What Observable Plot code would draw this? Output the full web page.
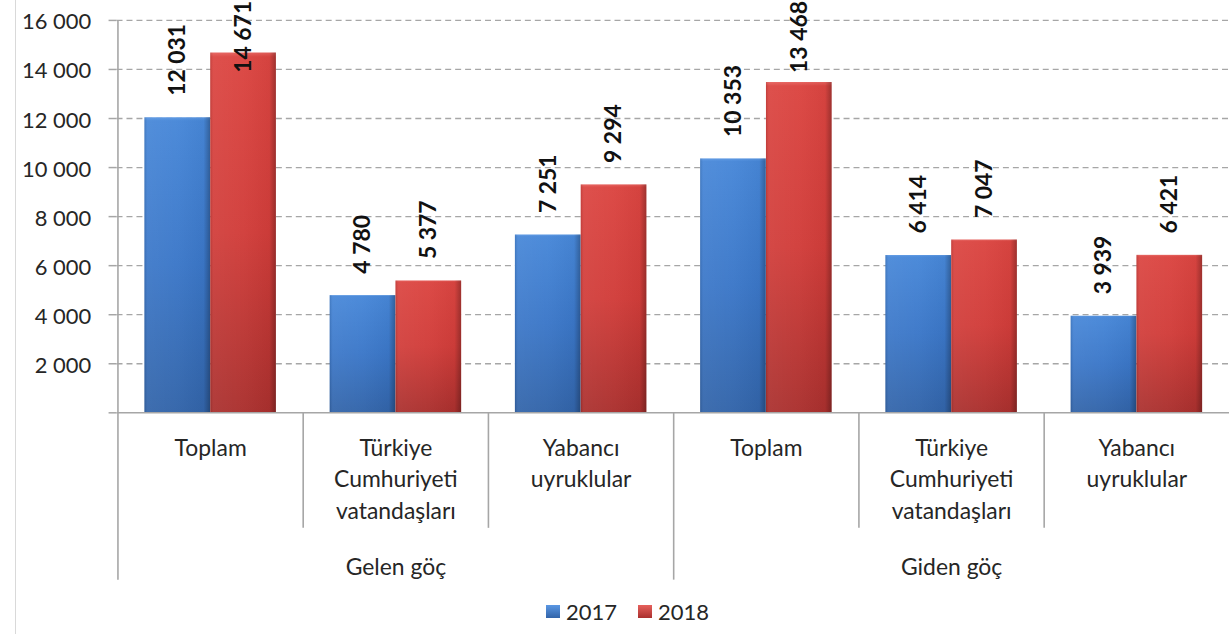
<!DOCTYPE html>
<html><head><meta charset="utf-8">
<script src="https://cdn.jsdelivr.net/npm/d3@7"></script>
<script src="https://cdn.jsdelivr.net/npm/@observablehq/plot@0.6"></script>
<style>
html,body{margin:0;padding:0;background:#fff;overflow:hidden;width:1229px;height:634px;}
#wrap{position:relative;width:1229px;height:634px;overflow:hidden;font-family:Lato,sans-serif;}
#border{position:absolute;left:15px;top:0;width:0;height:634px;border-left:1.5px solid #d9d9d9;}
#chart svg{display:block;}
#legend{position:absolute;left:546px;top:598px;display:flex;align-items:center;font-size:22px;color:#262626;font-family:Lato,sans-serif;}
#legend .item{display:flex;align-items:center;margin-right:21px;}
#legend .sw{width:14px;height:13px;margin-right:6px;}
</style></head>
<body><div id="wrap"><div id="border"></div><div id="chart"></div><div id="legend"></div></div>
<script>
// ---- data ----
const groupNames = ["Gelen göç", "Giden göç"];
const categories = ["Toplam", "Türkiye\nCumhuriyeti\nvatandaşları", "Yabancı\nuyruklular",
                    "Toplam", "Türkiye\nCumhuriyeti\nvatandaşları", "Yabancı\nuyruklular"];
const categoryGroup = [0, 0, 0, 1, 1, 1];
const years = ["2017", "2018"];
const values2017 = [12031, 4780, 7251, 10353, 6414, 3939];
const values2018 = [14671, 5377, 9294, 13468, 7047, 6421];
const yTicks = [0, 2000, 4000, 6000, 8000, 10000, 12000, 14000, 16000];

// ---- derived tables ----
const keys = categories.map((c, i) => `${groupNames[categoryGroup[i]]}|${i}`);
const keyLabel = new Map(keys.map((k, i) => [k, categories[i]]));
const d2017 = keys.map((k, i) => ({key: k, year: years[0], v: values2017[i]}));
const d2018 = keys.map((k, i) => ({key: k, year: years[1], v: values2018[i]}));
const groupAnchors = groupNames.map((g, gi) => {
  const ks = keys.filter((k, i) => categoryGroup[i] === gi);
  return {name: g, key: ks[Math.floor(ks.length / 2)]};
});
const firstKeys = keys.filter((k, i) => i === 0 || categoryGroup[i] !== categoryGroup[i - 1]);
const innerKeys = keys.filter(k => !firstKeys.includes(k));

const locale = d3.formatLocale({decimal: ",", thousands: " ", grouping: [3], currency: ["", ""]});
const fmt = locale.format(",d");

// ---- layout ----
const W = 1234, H = 600, mL = 117, mR = 0, mT = 20, mB = 186;
const band = (W - mL - mR) / keys.length;
const barW = band * 0.355;
const plotH = H - mT - mB;
const gridColor = "#a6a6a6";

const svg = Plot.plot({
  width: W, height: H,
  marginLeft: mL, marginRight: mR, marginTop: mT, marginBottom: mB,
  style: {fontFamily: "Lato, sans-serif", background: "white", overflow: "visible"},
  x: {type: "band", domain: keys, padding: 0, axis: null},
  y: {domain: [0, 16000], axis: null},
  marks: [
    // dashed grid
    Plot.ruleY(yTicks.filter(d => d > 0), {y: d => d, stroke: gridColor, strokeWidth: 1.3, strokeDasharray: "6,4"}),
    // y tick marks
    Plot.ruleY(yTicks, {y: d => d, stroke: gridColor, strokeWidth: 1.5, insetLeft: -8, insetRight: W - mL - mR}),
    // y tick labels
    Plot.text(yTicks.filter(d => d > 0), {y: d => d, text: d => fmt(d), frameAnchor: "left", textAnchor: "end",
      dx: -26, dy: 2, fontSize: 22, fontWeight: "normal", fill: "#262626"}),
    // bars
    Plot.barY(d2017, {x: "key", y: "v", insetLeft: band / 2 - barW, insetRight: band / 2, fill: "url(#gBlue)"}),
    Plot.barY(d2018, {x: "key", y: "v", insetLeft: band / 2, insetRight: band / 2 - barW, fill: "url(#gRed)"}),
    Plot.barY(d2017, {x: "key", y: "v", insetLeft: band / 2 - barW, insetRight: band / 2, fill: "url(#gShade)"}),
    Plot.barY(d2018, {x: "key", y: "v", insetLeft: band / 2, insetRight: band / 2 - barW, fill: "url(#gShade)"}),
    // baseline
    Plot.ruleY([0], {y: d => d, stroke: gridColor, strokeWidth: 1.5}),
    // y axis line (full height, extends below for group frame)
    Plot.ruleX([keys[0]], {x: d => d, dx: -band / 2, stroke: gridColor, strokeWidth: 1.6, insetBottom: -168}),
    // group separators below axis
    Plot.ruleX(firstKeys.slice(1), {x: d => d, dx: -band / 2, stroke: gridColor, strokeWidth: 1.6, insetTop: plotH, insetBottom: -168}),
    Plot.ruleX(innerKeys, {x: d => d, dx: -band / 2, stroke: gridColor, strokeWidth: 1.6, insetTop: plotH, insetBottom: -116}),
    // value labels
    Plot.text(d2017, {x: "key", y: "v", text: d => fmt(d.v), rotate: -90, textAnchor: "start", dx: -barW / 2, dy: -22,
      fontSize: 23, fontWeight: "bold", fill: "#111"}),
    Plot.text(d2018, {x: "key", y: "v", text: d => fmt(d.v), rotate: -90, textAnchor: "start", dx: barW / 2, dy: -22,
      fontSize: 23, fontWeight: "bold", fill: "#111"}),
    // category labels
    Plot.text(keys, {x: d => d, text: d => keyLabel.get(d), frameAnchor: "bottom", lineAnchor: "top", dy: 21,
      lineHeight: 1.37, fontSize: 23, fill: "#262626"}),
    // group labels
    Plot.text(groupAnchors, {x: "key", text: "name", frameAnchor: "bottom", lineAnchor: "top", dy: 147,
      fontSize: 23, fill: "#262626"})
  ]
});

// gradients
const defs = d3.select(svg).insert("defs", ":first-child");
function vgrad(id, stops) {
  const g = defs.append("linearGradient").attr("id", id).attr("x1", 0).attr("y1", 0).attr("x2", 0).attr("y2", 1);
  stops.forEach(([o, c]) => g.append("stop").attr("offset", o).attr("stop-color", c));
}
vgrad("gBlue", [[0, "#5a97e3"], [0.012, "#4787d8"], [0.5, "#3b77c8"], [1, "#3264a9"]]);
vgrad("gRed", [[0, "#e6605c"], [0.012, "#db4541"], [0.5, "#d13d3a"], [1, "#aa302e"]]);
const sh = defs.append("linearGradient").attr("id", "gShade").attr("x1", 0).attr("y1", 0).attr("x2", 1).attr("y2", 0);
[[0, "#000", 0.12], [0.05, "#fff", 0.06], [0.5, "#fff", 0.03], [0.9, "#000", 0.03], [1, "#000", 0.28]]
  .forEach(([o, c, op]) => sh.append("stop").attr("offset", o).attr("stop-color", c).attr("stop-opacity", op));

document.getElementById("chart").append(svg);

// keep tall (rotated) value labels inside the chart area
function clampLabels() {
  const box = svg.getBoundingClientRect();
  svg.querySelectorAll("text").forEach(t => {
    const tr = t.getAttribute("transform") || "";
    if (!tr.includes("rotate(-90)")) return;
    const r = t.getBoundingClientRect();
    const top = r.top - box.top;
    if (top < 0.5) t.setAttribute("transform", `translate(0,${(1 - top).toFixed(2)}) ` + tr);
  });
}
clampLabels();
if (document.fonts && document.fonts.ready) document.fonts.ready.then(clampLabels);

// legend
const colors = {"2017": "linear-gradient(#5a97e3, #3264a9)", "2018": "linear-gradient(#e6605c, #aa302e)"};
const legend = document.getElementById("legend");
years.forEach(y => {
  const item = document.createElement("div");
  item.className = "item";
  const sw = document.createElement("div");
  sw.className = "sw";
  sw.style.background = colors[y];
  const label = document.createElement("span");
  label.textContent = y;
  item.append(sw, label);
  legend.append(item);
});
</script>
</body></html>
